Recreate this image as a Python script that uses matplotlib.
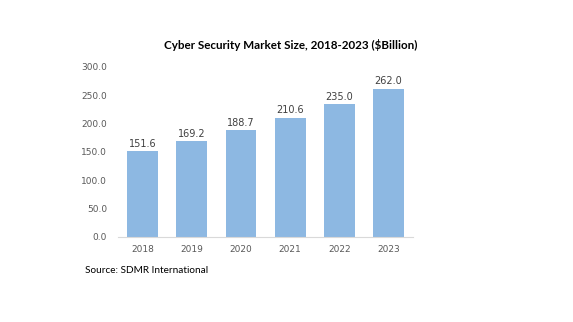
import matplotlib
matplotlib.use("Agg")
import matplotlib.pyplot as plt

years = ["2018", "2019", "2020", "2021", "2022", "2023"]
values = [151.6, 169.2, 188.7, 210.6, 235.0, 262.0]
yticks = [0, 50, 100, 150, 200, 250, 300]

fig = plt.figure(figsize=(5.73, 3.22), dpi=100)
ax = fig.add_axes([0.206, 0.264, 0.515, 0.528])
x = range(len(years))
bars = ax.bar(x, values, width=0.63, color="#8db8e2")
for xi, v in zip(x, values):
    ax.text(xi, v + 4, f"{v:.1f}", ha="center", va="bottom", fontsize=7, color="#404040")
ax.set_xlim(-0.5, len(years) - 0.5)
ax.set_ylim(0, 300)
ax.set_yticks(yticks)
ax.set_yticklabels([f"{t:.1f}" for t in yticks])
ax.set_xticks(list(x))
ax.set_xticklabels(years)
ax.tick_params(axis="both", length=0, labelsize=6.5, colors="#595959")
ax.tick_params(axis="x", pad=6)
ax.tick_params(axis="y", pad=8)
for s in ["top", "right", "left"]:
    ax.spines[s].set_visible(False)
ax.spines["bottom"].set_color("#d9d9d9")
fig.text(0.507, 0.86, "Cyber Security Market Size, 2018-2023 ($Billion)", ha="center", va="center",
         fontsize=8.4, fontweight="bold", color="#000000", family="Lato")
fig.text(0.148, 0.16, "Source: SDMR International", ha="left", va="center", fontsize=7.2, color="#000000",
         family="Lato")
fig.savefig("out.png", dpi=100)
